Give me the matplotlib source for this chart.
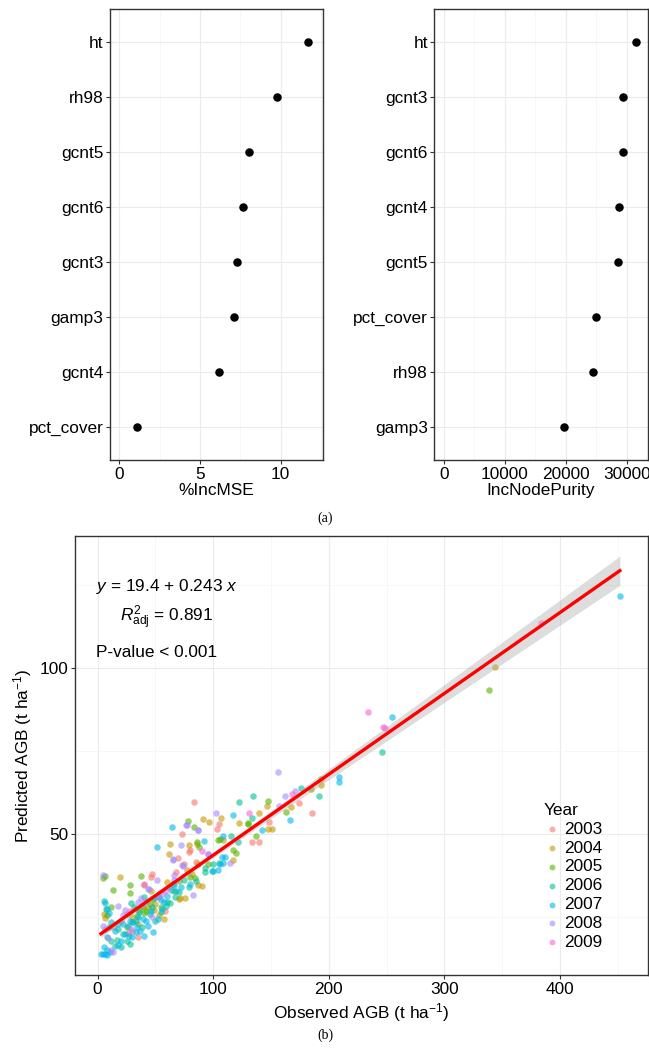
import numpy as np
import matplotlib
matplotlib.use("Agg")
from matplotlib import pyplot as plt

plt.rcParams['font.family'] = ['Liberation Sans', 'DejaVu Sans']
plt.rcParams['mathtext.fontset'] = 'custom'
plt.rcParams['mathtext.rm'] = 'Liberation Sans'
plt.rcParams['mathtext.it'] = 'Liberation Sans:italic'

# ---- (a) variable importance ----
mse_vars = ["ht", "rh98", "gcnt5", "gcnt6", "gcnt3", "gamp3", "gcnt4", "pct_cover"]
mse_vals = [11.72, 9.79, 8.04, 7.65, 7.32, 7.13, 6.20, 1.12]

purity_vars = ["ht", "gcnt3", "gcnt6", "gcnt4", "gcnt5", "pct_cover", "rh98", "gamp3"]
purity_vals = [31520, 29400, 29350, 28790, 28580, 24970, 24420, 19770]

# ---- (b) observed vs predicted AGB, by year ----
years = ["2003", "2004", "2005", "2006", "2007", "2008", "2009"]
year_colors = ["#F8766D", "#C49A00", "#53B400", "#00C094", "#00B6EB", "#A58AFF", "#FB61D7"]

obs_2003 = [83, 174.4, 185.8, 73, 103.4, 105, 148.3, 133.5, 139.2, 78.7, 80.1, 69.3, 85.2,
            61.4, 46, 47.4, 34.7, 26.7, 52, 43, 68, 58, 20, 13, 30, 75, 38, 25]
pred_2003 = [59.7, 59.4, 56.5, 50.2, 51.7, 53.2, 53.7, 47.7, 47.7, 44.7, 45.2, 43, 41.7,
             34, 37.2, 38, 19.2, 20.2, 31.5, 30, 38.5, 27, 24, 22, 21, 41, 28.5, 26]

obs_2004 = [343.6, 192.9, 193.6, 146.9, 167.6, 107.1, 91.5, 96.3, 121.9, 139.8, 147.7, 151.1,
            108.5, 117, 78.7, 86.4, 62.5, 61.6, 87.2, 77.3, 87.2, 90, 71.6, 75.9, 19, 46,
            40.3, 43.2, 48.9, 53.1, 5.7, 6.8, 60, 57, 30, 35, 82, 70, 33, 50]
pred_2004 = [100.1, 66.6, 64.9, 58.4, 58.2, 54.9, 54.5, 53.7, 53.4, 56.4, 51.7, 51.7,
             48.4, 42.4, 46.7, 47.2, 47.2, 44.2, 41.2, 39.2, 34.7, 34.4, 30.7, 30.7, 37, 32.9,
             34.7, 27.7, 27.2, 25.7, 25.9, 24.9, 35.5, 24.5, 25, 23, 38, 30.5, 27.5, 29]

obs_2005 = [338.2, 184.6, 162.9, 147.1, 130, 83, 78.1, 129.8, 136.9, 104.3, 117, 119.9,
            95.7, 86.4, 88, 80.1, 84.4, 37.5, 4.8, 6.2, 13.4, 28.4, 27.6, 36.1, 38.9, 40.3,
            11.9, 8.5, 105.8, 30, 25, 45, 55, 66, 70, 34, 42, 48]
pred_2005 = [93.2, 63.6, 56.6, 59.9, 53.2, 52.2, 54, 53.4, 49.5, 48.2, 45.4, 44.5,
             41.2, 47.7, 46.2, 37.2, 36.7, 37.4, 36.7, 37.4, 33.2, 34.7, 32.4, 27.2, 28.2, 26.2,
             28.2, 25.7, 48.6, 23.5, 22, 29, 28, 33, 36, 25.5, 27, 30.5]

obs_2006 = [246.4, 175.7, 191.4, 134.3, 122.7, 133.5, 115.6, 121.3, 100, 99.4, 93, 75, 78.7,
            70.2, 67.3, 60.2, 62.2, 58.8, 29, 31.8, 16.4, 5.5, 7, 22, 25, 28, 33, 18, 38, 45,
            50, 55, 12, 20, 8, 65, 92.5, 105, 85, 40, 15, 36, 47, 53]
pred_2006 = [74.6, 63.9, 61.5, 61.5, 59.7, 55, 49.5, 47.7, 41.2, 39, 39.7, 36.2, 34.2,
             32.7, 31.2, 29.7, 29.2, 28.4, 29.2, 28.2, 18.3, 30, 27.5, 20, 18, 17, 24, 21.5, 22, 26,
             24, 26.5, 18, 16, 19, 35, 38.6, 41.3, 36, 31, 16.5, 26.5, 28, 31]

obs_2007 = [451.8, 255, 209, 209, 166.1, 117.5, 64.3, 51.3, 92, 142.6, 108.5, 110, 105.7,
            104.3, 108.9, 107.5, 99.3, 63.1, 65.9, 48.9, 54.5, 57.4, 2.9, 6.3, 7.8, 5.4, 17.8,
            4.8, 8.2, 10.5, 6.2, 7.7, 9.7, 28, 31, 34, 37, 26, 22, 40, 30, 20, 24, 35, 42, 15,
            12, 10, 44, 48, 52, 56, 60, 72, 80, 68, 27, 33, 39, 18, 46]
pred_2007 = [121.6, 85.1, 67.3, 65.7, 54.4, 55.7, 52.3, 46.3, 47.9, 51.2, 49.4, 43.2, 41.2,
             39.2, 41.5, 43.1, 38.8, 33.2, 34.7, 30.7, 30.2, 29.7, 14, 14, 15.1, 16.1, 16.8,
             14, 13.7, 14.7, 29.2, 27.4, 26.4, 24, 23.5, 22, 21, 22.5, 23, 19.5, 19, 18, 20, 25, 24, 21,
             23.5, 22, 22.5, 20.5, 24.5, 27.5, 31.5, 34, 35, 33, 19.5, 20.5, 24.5, 23, 27]

obs_2008 = [156.4, 161.8, 171, 157.1, 102.8, 76.1, 86.8, 77.3, 87.2, 95.7, 72.2, 65.1, 73,
            114.2, 82.1, 66.5, 65.9, 51.1, 43.2, 52.3, 37.5, 40.3, 35.2, 47.4, 23.3, 21.9,
            17.6, 4.8, 6.2, 13.4, 11.5, 9.2, 4.6, 44.6, 95.2, 64.9, 74, 29, 56]
pred_2008 = [68.7, 61.5, 62.9, 58.6, 56.4, 52.8, 51.4, 52.7, 51.2, 44.2, 46.7, 42.2, 40.7,
             41.4, 31.7, 37.7, 36.2, 36.2, 33.4, 31.2, 30.7, 29.2, 29.7, 25, 27.2, 25.7,
             28.4, 22.4, 21.4, 14.7, 15.1, 18.8, 37.6, 33.5, 44.1, 42.5, 40.3, 21.5, 32]

obs_2009 = [384, 234, 247, 249, 130.7, 168, 28, 40, 58, 90]
pred_2009 = [113.6, 86.7, 82.3, 82, 56.3, 62, 27, 35, 33, 45]

obs_by_year = [obs_2003, obs_2004, obs_2005, obs_2006, obs_2007, obs_2008, obs_2009]
pred_by_year = [pred_2003, pred_2004, pred_2005, pred_2006, pred_2007, pred_2008, pred_2009]

fit_intercept = 19.4
fit_slope = 0.243

grid_major = "#EBEBEB"
grid_minor = "#F4F4F4"


def style_axes(ax):
    for s in ax.spines.values():
        s.set_color("#333333")
        s.set_linewidth(1.0)
    ax.grid(True, which="major", color=grid_major, linewidth=0.8)
    ax.grid(True, which="minor", color=grid_minor, linewidth=0.5)
    ax.set_axisbelow(True)
    ax.tick_params(which="major", length=2.7, width=0.8, color="#333333",
                   labelsize=12.4, labelcolor="black", pad=2)
    ax.tick_params(which="minor", length=0)


fig = plt.figure(figsize=(6.49, 10.55), dpi=100)
W, H = 649, 1055


def px_axes(x0, y0, x1, y1):
    return fig.add_axes([x0 / W, 1 - y1 / H, (x1 - x0) / W, (y1 - y0) / H])


# left panel
ax1 = px_axes(110, 9.3, 322.7, 460)
pos = np.arange(len(mse_vars), 0, -1)
ax1.scatter(mse_vals, pos, s=26, color="black", zorder=3)
ax1.set_yticks(pos)
ax1.set_yticklabels(mse_vars)
ax1.set_ylim(0.4, len(mse_vars) + 0.6)
ax1.set_xlim(-0.58, 12.6)
ax1.set_xticks([0, 5, 10])
ax1.set_xticks([2.5, 7.5, 12.5], minor=True)
ax1.set_xlabel("%IncMSE", fontsize=12.4, labelpad=1)
style_axes(ax1)

# right panel
ax2 = px_axes(434.3, 9.3, 647.7, 460)
pos = np.arange(len(purity_vars), 0, -1)
ax2.scatter(purity_vals, pos, s=26, color="black", zorder=3)
ax2.set_yticks(pos)
ax2.set_yticklabels(purity_vars)
ax2.set_ylim(0.4, len(purity_vars) + 0.6)
ax2.set_xlim(-1540, 33410)
ax2.set_xticks([0, 10000, 20000, 30000])
ax2.set_xticks([5000, 15000, 25000], minor=True)
ax2.set_xlabel("IncNodePurity", fontsize=12.4, labelpad=1)
style_axes(ax2)

fig.text(325 / W, 1 - 518 / H, "(a)", ha="center", va="center",
         family="Liberation Serif", fontsize=10)

# bottom panel
ax3 = px_axes(74.5, 536, 647.8, 975)
all_obs = np.concatenate([np.array(o, float) for o in obs_by_year])
all_pred = np.concatenate([np.array(p, float) for p in pred_by_year])

for yr, col, o, p in zip(years, year_colors, obs_by_year, pred_by_year):
    ax3.scatter(o, p, s=22, color=col, alpha=0.6, linewidths=0, label=yr, zorder=2)

# fitted line with 95% confidence band
xs = np.linspace(all_obs.min(), all_obs.max(), 200)
ys = fit_intercept + fit_slope * xs
resid = all_pred - (fit_intercept + fit_slope * all_obs)
n = len(all_obs)
s_err = np.sqrt(np.sum(resid ** 2) / (n - 2))
sxx = np.sum((all_obs - all_obs.mean()) ** 2)
se = s_err * np.sqrt(1 / n + (xs - all_obs.mean()) ** 2 / sxx)
ax3.fill_between(xs, ys - 1.97 * se, ys + 1.97 * se, color="#AAAAAA", alpha=0.4,
                 linewidth=0, zorder=3)
ax3.plot(xs, ys, color="#FF0000", linewidth=2.4, zorder=4)

ax3.set_xlim(-20, 476)
ax3.set_ylim(7.7, 139.6)
ax3.set_xticks([0, 100, 200, 300, 400])
ax3.set_xticks([50, 150, 250, 350, 450], minor=True)
ax3.set_yticks([50, 100])
ax3.set_yticks([25, 75, 125], minor=True)
ax3.set_xlabel("Observed AGB (t ha$^{-1}$)", fontsize=12.4, labelpad=3)
ax3.set_ylabel("Predicted AGB (t ha$^{-1}$)", fontsize=12.4, labelpad=4)
style_axes(ax3)

ax3.text(-1.5, 124.4, "$y$ = 19.4 + 0.243 $x$", fontsize=12.4, va="center", ha="left")
ax3.text(19, 115, "$R^2_{\\mathrm{adj}}$ = 0.891", fontsize=12.4, va="center", ha="left")
ax3.text(-1.5, 104.5, "P-value < 0.001", fontsize=12.4, va="center", ha="left")

leg = ax3.legend(title="Year", loc="upper left", bbox_to_anchor=(462 / 573.3, 1 - (796 - 536) / 439),
                 frameon=False, fontsize=12.4, title_fontsize=12.4, handletextpad=0.2,
                 labelspacing=0.22, markerscale=0.9, borderaxespad=0, handlelength=1.0)
leg._legend_box.align = "left"

fig.text(325 / W, 1 - 1035 / H, "(b)", ha="center", va="center",
         family="Liberation Serif", fontsize=10)

fig.savefig("out.png", dpi=100)
